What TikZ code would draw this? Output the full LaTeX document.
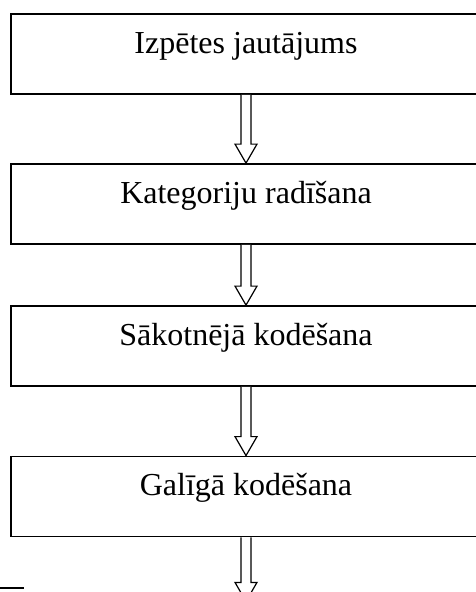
\documentclass[tikz,border=0pt]{standalone}
\usepackage{fontspec}
\setmainfont{Liberation Serif}
\usetikzlibrary{calc}
\tikzset{
  box/.style={draw=black, line width=1.8pt, rectangle, minimum width=470pt, minimum height=80pt, inner sep=0pt},
  lbl/.style={anchor=base, font=\fontsize{32}{38}\selectfont, inner sep=0pt},
  arr/.style={draw=black, line width=1.2pt, fill=white, line join=miter},
}
\begin{document}
\begin{tikzpicture}[x=1pt,y=-1pt]
\useasboundingbox (0,0) rectangle (476,592);
\clip (0,0) rectangle (476,592);
\node[box] (b1) at (246,54) {};
\node[box] (b2) at (246,204) {};
\node[box] (b3) at (246,346) {};
\node[box] (b4) at (246,496.5) {};
\node[lbl] (t1) at ($(b1.north)+(0,40)$) {Izpētes jautājums};
\node[lbl] (t2) at ($(b2.north)+(0,40)$) {Kategoriju radīšana};
\node[lbl] (t3) at ($(b3.north)+(0,40)$) {Sākotnējā kodēšana};
\node[lbl] (t4) at ($(b4.north)+(0,40)$) {Galīgā kodēšana};
\foreach \a/\b in {b1/b2,b2/b3,b3/b4}{
  \draw[arr] ($(\a.south)+(-5,0)$) -- ($(\b.north)+(-5,-19)$) -- ++(-6,0) -- (\b.north) -- ($(\b.north)+(11,-19)$) -- ++(-6,0) -- ($(\a.south)+(5,0)$);
}
\coordinate (end) at ($(b4.south)+(0,64)$);
\draw[arr] ($(b4.south)+(-5,0)$) -- ($(end)+(-5,-19)$) -- ++(-6,0) -- (end) -- ($(end)+(11,-19)$) -- ++(-6,0) -- ($(b4.south)+(5,0)$);
\coordinate (r0) at (0,588);
\coordinate (r1) at (24,588);
\draw[line width=1.5pt] (r0) -- (r1);
\end{tikzpicture}
\end{document}
